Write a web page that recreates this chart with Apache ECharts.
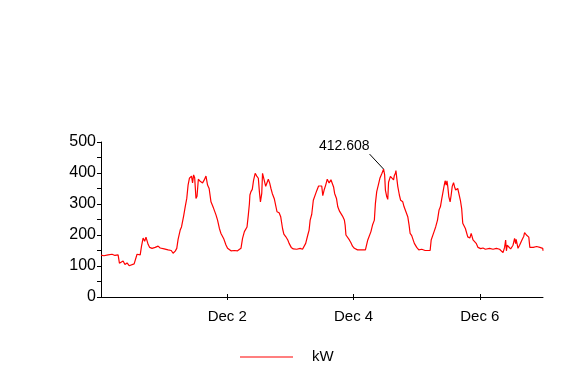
<!DOCTYPE html>
<html><head><meta charset="utf-8">
<script src="https://cdn.jsdelivr.net/npm/echarts@6/dist/echarts.min.js"></script>
<style>html,body{margin:0;padding:0;background:#fff}#c{width:580px;height:380px}</style>
</head><body><div id="c"></div>
<script>
// hours since Nov 30 00:00
const hours = [0,1.1,2.7,4.2,5.3,6.5,7.0,7.6,8.4,9.1,9.9,10.7,11.4,12.6,13.3,13.7,14.9,15.4,16.0,16.6,17.1,17.9,18.5,19.4,20.6,21.7,22.5,24.0,25.5,26.7,27.4,28.2,
28.8,29.3,30.1,30.6,31.4,32.0,32.6,33.1,33.6,34.4,34.8,35.2,35.6,36.1,36.5,37.0,37.7,38.6,39.2,39.9,40.5,41.1,41.8,42.8,43.7,44.3,45.0,45.6,46.6,47.5,48.1,49.4,50.7,51.9,52.6,53.2,53.8,54.5,55.5,56.0,56.4,56.6,
57.0,57.5,58.0,58.6,59.2,59.8,60.2,60.6,61.1,61.4,62.1,62.6,63.1,63.6,64.1,64.6,65.1,65.9,66.4,66.9,67.7,68.3,69.0,69.5,70.2,71.0,71.5,72.3,73.1,74.4,75.7,76.6,77.3,77.8,78.6,79.1,79.5,80.1,80.7,81.4,82.0,82.7,83.3,83.9,84.3,
84.8,85.4,86.0,86.7,87.4,88.0,88.4,88.8,89.5,90.0,90.7,91.2,91.8,92.5,92.8,93.1,93.7,94.4,95.0,95.6,96.3,97.5,98.7,99.4,100.5,101.0,101.4,102.0,102.6,103.2,103.9,104.3,104.8,105.4,106.0,106.8,107.4,107.8,108.1,108.6,109.0,109.3,110.0,110.6,111.2,111.5,111.9,112.1,112.4,
112.8,113.4,113.9,114.7,115.2,115.9,116.6,117.1,117.5,118.1,118.8,119.1,119.6,120.0,120.8,121.9,123.2,125.1,125.5,126.1,126.6,127.2,127.9,128.5,129.0,129.5,129.9,130.4,130.8,131.2,131.5,131.8,132.2,132.7,133.1,133.5,134.0,134.4,134.8,135.6,136.1,136.6,137.1,137.5,138.1,138.5,138.9,139.4,140.2,140.7,
141.4,142.0,142.6,143.3,144.3,145.2,146.1,147.7,149.0,150.3,151.5,152.2,152.8,153.4,153.8,154.1,154.4,154.9,155.7,156.2,156.6,157.2,157.6,157.8,158.5,159.1,159.5,160.0,160.7,161.0,161.7,162.1,162.6,163.0,164.3,164.9,165.6,166.8,167.5,167.9,168.0];
const kw = [135,133,136,138,134,136,109,112,116,105,110,101,104,107,108,138,136,164,190,180,193,170,160,157,160,164,158,155,152,150,141,148,
157,186,216,226,261,291,318,361,383,390,368,394,385,318,325,380,373,368,377,390,361,350,307,286,265,248,221,205,189,168,157,149,150,149,146,157,189,211,226,265,300,329,
340,347,377,399,390,383,340,307,334,399,404,357,362,380,368,350,334,316,314,275,272,259,221,203,195,184,173,160,155,154,157,154,160,173,200,216,248,267,312,318,343,358,355,358,327,
345,361,380,368,378,380,355,334,318,291,276,272,261,248,232,200,196,184,175,164,157,152,152,149,152,149,184,189,211,232,248,302,340,361,383,399,412.608,395,345,324,315,370,389,390,378,392,399,408,385,
357,329,312,307,291,275,259,232,205,198,200,173,168,160,152,154,150,150,184,186,211,226,248,281,291,316,334,358,375,361,375,357,324,307,329,357,369,355,345,350,347,312,284,238,232,221,227,194,190,205,
184,186,173,160,156,158,154,157,154,157,154,149,143,160,184,149,167,172,155,160,167,189,172,186,157,167,162,184,196,208,200,204,193,160,160,155,163,160,163,157,149];
const xTickHours = [48, 96, 144];
const xTickLabels = ['Dec 2', 'Dec 4', 'Dec 6'];
const seriesName = 'kW';

const FONT = "'Liberation Sans', Arial, sans-serif";
const chart = echarts.init(document.getElementById('c'), null, {renderer: 'canvas'});
const data = hours.map((h, i) => [h, kw[i]]);
const xAxisBase = {
  type: 'value', min: 0, max: 168, gridIndex: 0, position: 'bottom',
  splitLine: {show: false}
};
chart.setOption({
  animation: false,
  backgroundColor: '#fff',
  grid: {left: 101, right: 37, top: 142, bottom: 83},
  legend: {
    left: 240, top: 349, padding: 0,
    data: [{name: seriesName, icon: 'rect'}],
    itemWidth: 53, itemHeight: 1,
    textStyle: {color: '#000', fontFamily: FONT, fontSize: 15, lineHeight: 16, padding: [0, 0, 0, 14]}
  },
  xAxis: [
    Object.assign({}, xAxisBase, {
      axisLine: {show: true, lineStyle: {color: '#000', width: 1}},
      axisTick: {show: true, inside: false, length: 3, customValues: xTickHours, lineStyle: {color: '#000'}},
      axisLabel: {
        show: true, customValues: xTickHours, margin: 12, color: '#000', fontFamily: FONT, fontSize: 15,
        formatter: v => { const i = xTickHours.indexOf(v); return i >= 0 ? xTickLabels[i] : ''; }
      }
    }),
    Object.assign({}, xAxisBase, {
      axisLine: {show: false},
      axisTick: {show: true, inside: true, length: 3, customValues: xTickHours, lineStyle: {color: '#000'}},
      axisLabel: {show: false}
    })
  ],
  yAxis: {
    type: 'value', min: 0, max: 500, interval: 100,
    splitLine: {show: false},
    axisLine: {show: true, lineStyle: {color: '#000', width: 1}},
    axisTick: {show: true, length: 4, lineStyle: {color: '#000'}},
    minorTick: {show: true, splitNumber: 2, length: 4, lineStyle: {color: '#000'}},
    axisLabel: {margin: 5, color: '#000', fontFamily: FONT, fontSize: 16}
  },
  series: [{
    name: seriesName, type: 'line', data: data, showSymbol: false, symbol: 'none',
    xAxisIndex: 0,
    lineStyle: {color: '#ff0000', width: 1.2}, itemStyle: {color: '#ff0000'}
  }]
});

// Peak annotation, placed through the library's scales
let pi = 0;
kw.forEach((v, i) => { if (v > kw[pi]) pi = i; });
const p = chart.convertToPixel({seriesIndex: 0}, [hours[pi], kw[pi]]);
chart.setOption({
  graphic: [
    {type: 'line', shape: {x1: p[0] - 14, y1: p[1] - 15, x2: p[0], y2: p[1]}, style: {stroke: '#000', lineWidth: 1}},
    {type: 'text', x: p[0] - 14, y: p[1] - 16, style: {text: kw[pi].toFixed(3), fill: '#000', font: "14px 'Liberation Sans', Arial, sans-serif", textAlign: 'right', textVerticalAlign: 'bottom'}}
  ]
});
</script>
</body></html>
